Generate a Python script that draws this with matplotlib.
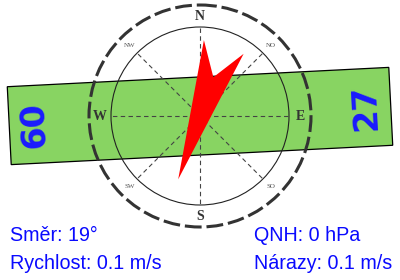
import numpy as np
import matplotlib.pyplot as plt
from matplotlib.patches import Polygon, Circle

# wind data
smer = 19          # direction, degrees
rychlost = 0.1     # m/s
narazy = 0.1       # m/s
qnh = 0            # hPa

# runway
runway_heading = 87.1
runway_labels = ["60", "27"]

# compass labels
cardinal = ["N", "E", "S", "W"]
cardinal_deg = [0, 90, 180, 270]
ordinal = ["NO", "SO", "SW", "NW"]
ordinal_deg = [45, 135, 225, 315]

cx, cy = 200, 116


def pt(deg, r):
    a = np.radians(deg)
    return cx + r * np.sin(a), cy - r * np.cos(a)


fig = plt.figure(figsize=(4, 2.8), dpi=100)
ax = fig.add_axes([0, 0, 1, 1])
ax.set_xlim(0, 400)
ax.set_ylim(280, 0)
ax.axis("off")

# runway strip
h = np.radians(runway_heading)
u = np.array([np.sin(h), -np.cos(h)])
v = np.array([np.cos(h), np.sin(h)])
c = np.array([cx, cy])
corners = [c - 191 * u - 39 * v, c + 191 * u - 39 * v,
           c + 191 * u + 39 * v, c - 191 * u + 39 * v]
ax.add_patch(Polygon(corners, closed=True, fc="#88d462", ec="black", lw=0.9, zorder=1))
tilt = 90 - runway_heading
for lab, sign in zip(runway_labels, [-1, 1]):
    x, y = pt(runway_heading, 166 * sign)
    ax.text(x, y, lab, rotation=90 + tilt, rotation_mode="anchor", ha="center", va="center",
            fontsize=24, fontweight="bold", color="#1a1aff", zorder=2)

# compass rose
ax.add_patch(Circle((cx, cy), 111, fill=False, ec="#333333", lw=2.2,
                    ls=(0, (5.5, 1.6)), zorder=3))
ax.add_patch(Circle((cx, cy), 89, fill=False, ec="#222222", lw=0.8, zorder=3))
for d in range(0, 180, 45):
    x0, y0 = pt(d, 88)
    x1, y1 = pt(d + 180, 88)
    ax.plot([x0, x1], [y0, y1], color="#444444", lw=0.8, ls=(0, (4, 3)), zorder=3)

for lab, d in zip(cardinal, cardinal_deg):
    x, y = pt(d, 100)
    ax.text(x, y, lab, ha="center", va="center", fontsize=10, fontweight="bold",
            family="Liberation Serif", color="#333333", zorder=4)
for lab, d in zip(ordinal, ordinal_deg):
    x, y = pt(d, 100)
    ax.text(x, y, lab, ha="center", va="center", fontsize=5,
            family="Liberation Serif", color="#555555", zorder=4)

# wind arrow
along = np.array([-67, 73, 41, 73])
perp = np.array([0, -21, 0, 21])
a = np.radians(smer)
ua = np.array([np.sin(a), -np.cos(a)])
va_ = np.array([np.cos(a), np.sin(a)])
arrow = [c + s * ua + p * va_ for s, p in zip(along, perp)]
ax.add_patch(Polygon(arrow, closed=True, fc="#ff0000", ec="none", zorder=5))

# readouts
txt = dict(fontsize=14.2, color="#0a0aff", family="Liberation Sans", va="baseline")
ax.text(10.5, 240.7, f"Směr: {smer}°", **txt)
ax.text(10.5, 269, f"Rychlost: {rychlost} m/s", **txt)
ax.text(254, 240.7, f"QNH: {qnh} hPa", **txt)
ax.text(254, 269, f"Nárazy: {narazy} m/s", **txt)

fig.savefig("out.png", dpi=100)
